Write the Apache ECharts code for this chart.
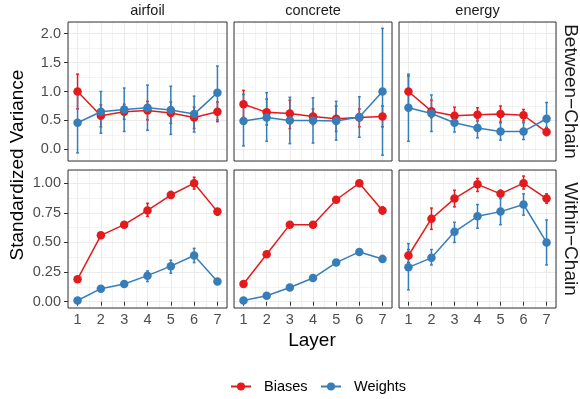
<!DOCTYPE html>
<html>
<head>
<meta charset="utf-8">
<script src="https://cdn.jsdelivr.net/npm/echarts@6/dist/echarts.min.js"></script>
<style>
  html, body { margin: 0; padding: 0; background: #fff; }
  #chart { width: 580px; height: 399px; }
</style>
</head>
<body>
<div id="chart"></div>
<script>
const layers = [1, 2, 3, 4, 5, 6, 7];
const datasets = ['airfoil', 'concrete', 'energy'];
const chainTypes = ['Between−Chain', 'Within−Chain'];
const groups = ['Biases', 'Weights'];
const betweenTicks = [0, 0.5, 1, 1.5, 2];
const withinTicks = [0, 0.25, 0.5, 0.75, 1];

// [mean, lower, upper] per layer
const airfoilBetweenBiases = [[1.00, 0.70, 1.30], [0.58, 0.39, 0.77], [0.65, 0.52, 0.78], [0.67, 0.51, 0.83], [0.63, 0.45, 0.82], [0.55, 0.36, 0.73], [0.65, 0.48, 0.82]];
const airfoilBetweenWeights = [[0.46, -0.06, 0.98], [0.65, 0.28, 1.00], [0.69, 0.31, 1.06], [0.72, 0.33, 1.11], [0.68, 0.26, 1.09], [0.61, 0.30, 0.92], [0.98, 0.51, 1.44]];
const concreteBetweenBiases = [[0.78, 0.55, 1.02], [0.64, 0.42, 0.87], [0.62, 0.36, 0.85], [0.57, 0.43, 0.70], [0.53, 0.31, 0.75], [0.55, 0.39, 0.70], [0.57, 0.39, 0.75]];
const concreteBetweenWeights = [[0.49, 0.06, 0.95], [0.55, 0.14, 0.98], [0.50, 0.10, 0.90], [0.50, 0.11, 0.89], [0.49, 0.16, 0.83], [0.56, 0.21, 0.91], [1.00, -0.10, 2.09]];
const energyBetweenBiases = [[1.00, 0.75, 1.27], [0.66, 0.55, 0.85], [0.58, 0.43, 0.73], [0.60, 0.49, 0.72], [0.61, 0.47, 0.75], [0.59, 0.49, 0.69], [0.30, 0.24, 0.38]];
const energyBetweenWeights = [[0.72, 0.14, 1.30], [0.62, 0.31, 0.94], [0.46, 0.30, 0.62], [0.37, 0.20, 0.53], [0.31, 0.16, 0.46], [0.31, 0.17, 0.46], [0.53, 0.25, 0.81]];
const airfoilWithinBiases = [[0.19, 0.17, 0.21], [0.56, 0.54, 0.58], [0.65, 0.63, 0.67], [0.77, 0.72, 0.83], [0.90, 0.88, 0.93], [1.00, 0.95, 1.05], [0.76, 0.73, 0.78]];
const airfoilWithinWeights = [[0.01, 0.00, 0.02], [0.11, 0.10, 0.12], [0.15, 0.13, 0.16], [0.22, 0.17, 0.26], [0.30, 0.24, 0.35], [0.39, 0.33, 0.45], [0.17, 0.15, 0.19]];
const concreteWithinBiases = [[0.15, 0.14, 0.17], [0.40, 0.39, 0.41], [0.65, 0.64, 0.66], [0.65, 0.63, 0.66], [0.86, 0.84, 0.87], [1.00, 0.99, 1.01], [0.77, 0.74, 0.80]];
const concreteWithinWeights = [[0.01, 0.00, 0.02], [0.05, 0.04, 0.06], [0.12, 0.11, 0.13], [0.20, 0.19, 0.22], [0.33, 0.31, 0.35], [0.42, 0.40, 0.43], [0.36, 0.34, 0.39]];
const energyWithinBiases = [[0.39, 0.33, 0.44], [0.70, 0.61, 0.79], [0.87, 0.80, 0.94], [0.99, 0.93, 1.04], [0.91, 0.89, 0.94], [1.00, 0.95, 1.06], [0.87, 0.83, 0.91]];
const energyWithinWeights = [[0.29, 0.10, 0.49], [0.37, 0.31, 0.44], [0.59, 0.50, 0.67], [0.72, 0.62, 0.82], [0.76, 0.65, 0.87], [0.82, 0.73, 0.91], [0.50, 0.31, 0.69]];

const panelData = [
  [[airfoilBetweenBiases, airfoilBetweenWeights], [concreteBetweenBiases, concreteBetweenWeights], [energyBetweenBiases, energyBetweenWeights]],
  [[airfoilWithinBiases, airfoilWithinWeights], [concreteWithinBiases, concreteWithinWeights], [energyWithinBiases, energyWithinWeights]],
];

const colors = ['#E41A1C', '#377EB8'];
const font = '"Liberation Sans", Arial, sans-serif';

// panel layout (px)
const colLeft = [68, 234, 399];
const colWidth = [159, 158, 157];
const rowTop = [22, 170];
const rowHeight = [139, 138];
const xRange = [0.59, 7.41];
const yRange = [[-0.2, 2.2], [-0.053, 1.111]];
const yStep = [0.5, 0.25];
const yTicks = [betweenTicks, withinTicks];

const grid = [], xAxis = [], yAxis = [], series = [];

function errorBarItem(color) {
  return function (params, api) {
    const x = api.value(0);
    const lo = api.coord([x, api.value(1)]);
    const hi = api.coord([x, api.value(2)]);
    const hw = api.size([0.06, 0])[0];
    const style = { stroke: color, lineWidth: 1.5 };
    return {
      type: 'group',
      children: [
        { type: 'line', shape: { x1: lo[0], y1: lo[1], x2: hi[0], y2: hi[1] }, style },
        { type: 'line', shape: { x1: lo[0] - hw, y1: lo[1], x2: lo[0] + hw, y2: lo[1] }, style },
        { type: 'line', shape: { x1: hi[0] - hw, y1: hi[1], x2: hi[0] + hw, y2: hi[1] }, style },
      ],
    };
  };
}

for (let r = 0; r < 2; r++) {
  for (let c = 0; c < 3; c++) {
    const gi = grid.length;
    grid.push({
      left: colLeft[c], top: rowTop[r], width: colWidth[c], height: rowHeight[r],
      show: true, borderColor: '#333', borderWidth: 1, backgroundColor: 'transparent', z: 1,
    });

    // major x grid + ticks/labels
    xAxis.push({
      type: 'value', gridIndex: gi, min: xRange[0], max: xRange[1],
      minInterval: 1, maxInterval: 1,
      axisLine: { show: false },
      axisTick: { show: r === 1, customValues: layers, length: 4, lineStyle: { color: '#333', width: 1 } },
      axisLabel: {
        show: r === 1, customValues: layers, margin: 4,
        color: '#4d4d4d', fontSize: 14.5, fontFamily: font,
      },
      splitLine: { show: true, lineStyle: { color: '#ebebeb', width: 1 } },
    });
    // minor x grid
    xAxis.push({
      type: 'value', gridIndex: gi, min: xRange[0], max: xRange[1], position: 'bottom',
      minInterval: 0.5, maxInterval: 0.5,
      axisLine: { show: false }, axisTick: { show: false }, axisLabel: { show: false },
      splitLine: { show: true, lineStyle: { color: '#ebebeb', width: 0.6 } },
    });

    yAxis.push({
      type: 'value', gridIndex: gi, min: yRange[r][0], max: yRange[r][1],
      minInterval: yStep[r], maxInterval: yStep[r],
      axisLine: { show: false },
      axisTick: { show: c === 0, customValues: yTicks[r], length: 4, lineStyle: { color: '#333', width: 1 } },
      axisLabel: {
        show: c === 0, customValues: yTicks[r], margin: 7,
        color: '#4d4d4d', fontSize: 14.5, fontFamily: font,
        formatter: (v) => v.toFixed(r === 0 ? 1 : 2),
      },
      splitLine: { show: true, lineStyle: { color: '#ebebeb', width: 1 } },
    });
    yAxis.push({
      type: 'value', gridIndex: gi, min: yRange[r][0], max: yRange[r][1], position: 'left',
      minInterval: yStep[r] / 2, maxInterval: yStep[r] / 2,
      axisLine: { show: false }, axisTick: { show: false }, axisLabel: { show: false },
      splitLine: { show: true, lineStyle: { color: '#ebebeb', width: 0.6 } },
    });

    panelData[r][c].forEach((arr, g) => {
      series.push({
        type: 'custom',
        name: groups[g] + ' range',
        xAxisIndex: 2 * gi, yAxisIndex: 2 * gi,
        renderItem: errorBarItem(colors[g]),
        data: arr.map((d, k) => [layers[k], d[1], d[2]]),
        z: 2 + g,
        silent: true,
      });
    });
    panelData[r][c].forEach((arr, g) => {
      series.push({
        type: 'line',
        name: groups[g],
        xAxisIndex: 2 * gi, yAxisIndex: 2 * gi,
        data: arr.map((d, k) => [layers[k], d[0]]),
        symbol: 'circle', symbolSize: 8.5,
        lineStyle: { color: colors[g], width: 1.5 },
        itemStyle: { color: colors[g] },
        z: 4 + g,
        animation: false,
      });
    });
  }
}

const graphicText = [];
datasets.forEach((name, c) => {
  graphicText.push({
    type: 'text', x: colLeft[c] + colWidth[c] / 2, y: 11,
    style: { text: name, fill: '#1a1a1a', fontSize: 14.5, fontFamily: font, align: 'center', verticalAlign: 'middle' },
  });
});
chainTypes.forEach((name, r) => {
  graphicText.push({
    type: 'text', x: 570, y: rowTop[r] + rowHeight[r] / 2, rotation: -Math.PI / 2,
    style: { text: name, fill: '#1a1a1a', fontSize: 19, fontFamily: font, align: 'center', verticalAlign: 'middle' },
  });
});
graphicText.push({
  type: 'text', x: 18, y: 165, rotation: Math.PI / 2,
  style: { text: 'Standardized Variance', fill: '#000', fontSize: 19, fontFamily: font, align: 'center', verticalAlign: 'middle' },
});
graphicText.push({
  type: 'text', x: 312, y: 341,
  style: { text: 'Layer', fill: '#000', fontSize: 19, fontFamily: font, align: 'center', verticalAlign: 'middle' },
});

const legendBase = {
  top: 379, itemWidth: 20, itemHeight: 10, padding: 0,
  textStyle: { color: '#000', fontSize: 14.5, fontFamily: font, padding: [0, 0, 0, 8] },
  selectedMode: false,
};

const chart = echarts.init(document.getElementById('chart'), null, { renderer: 'canvas' });
chart.setOption({
  animation: false,
  backgroundColor: '#fff',
  grid, xAxis, yAxis, series,
  legend: [
    Object.assign({}, legendBase, { left: 230, data: ['Biases'] }),
    Object.assign({}, legendBase, { left: 320, data: ['Weights'] }),
  ],
  graphic: graphicText,
});
</script>
</body>
</html>
